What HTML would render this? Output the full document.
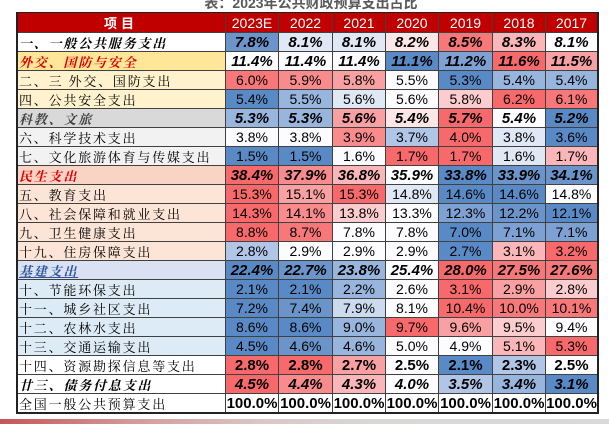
<!DOCTYPE html>
<html>
<head>
<meta charset="utf-8">
<style>
  html,body{margin:0;padding:0;background:#fff;}
  body{width:609px;height:424px;position:relative;overflow:hidden;}
  .title{position:absolute;left:0;width:622px;top:-4px;text-align:center;
    font:bold 14px/14px "Liberation Sans","Noto Sans CJK SC",sans-serif;color:#595959;white-space:nowrap;}
  .grid{position:absolute;left:16px;top:12px;border-left:1px solid #404040;border-top:1px solid #404040;
    display:grid;grid-template-columns:209px 53px 54px 53px 53px 54px 53px 52px;
    grid-template-rows:20px repeat(20,19px);}
  .c{box-sizing:border-box;border-right:1px solid #404040;border-bottom:1px solid #404040;
    display:flex;align-items:center;justify-content:center;white-space:nowrap;
    font:14px "Liberation Sans",Arial,sans-serif;color:#000;overflow:visible;}
  .h{background:#C00000;color:#fff;font-size:14px;}
  .hl{font:bold 13px "Noto Sans CJK SC",sans-serif;letter-spacing:4px;}
  .l{justify-content:flex-start;padding-left:2px;font:13px "Noto Serif CJK SC","Noto Sans CJK SC",serif;letter-spacing:1.8px;}
  .lbi{font-weight:bold;font-style:italic;}
  .bi{font-weight:bold;font-style:italic;font-size:15px;}
  .b{font-weight:bold;font-size:15px;}
  .B{background:#5A8AC6}.B1{background:#6B94CA}.B2{background:#7EA1D4}.B3{background:#98B5DE}
  .B4{background:#B1C6E7}.B5{background:#CCDAEF}.B6{background:#E1E8F5}.W{background:#FCFCFF}
  .P6{background:#FCE6E8}.P5{background:#FBCDCF}.P4{background:#FAB6B8}.P3{background:#F9A0A2}
  .P2{background:#F98B8D}.P1{background:#F8787A}.R{background:#F8696B}.WW{background:#fff}
  .frame{position:absolute;left:16px;top:12px;width:583px;height:402px;box-sizing:border-box;
    border:2px solid #222;border-top-width:1px;pointer-events:none;}
  .bar{position:absolute;left:0;top:419px;width:609px;height:5px;
    background:linear-gradient(90deg,#c45656 0%,#d49a9a 22%,#dbc4c4 42%,#d9d6d6 60%,#d9d9d9 100%);}
</style>
</head>
<body>
<div class="title">表：2023年公共财政预算支出占比</div>
<div class="grid">
  <div class="c h hl">项目</div>
  <div class="c h">2023E</div><div class="c h">2022</div><div class="c h">2021</div><div class="c h">2020</div><div class="c h">2019</div><div class="c h">2018</div><div class="c h">2017</div>

  <div class="c l lbi" style="background:#fff;color:#000">一、一般公共服务支出</div>
  <div class="c bi B1">7.8%</div><div class="c bi B6">8.1%</div><div class="c bi B6">8.1%</div><div class="c bi P6">8.2%</div><div class="c bi P1">8.5%</div><div class="c bi P4">8.3%</div><div class="c bi W">8.1%</div>

  <div class="c l lbi" style="background:#FFE699;color:#E00000">外交、国防与安全</div>
  <div class="c bi W">11.4%</div><div class="c bi W">11.4%</div><div class="c bi W">11.4%</div><div class="c bi B">11.1%</div><div class="c bi B2">11.2%</div><div class="c bi R">11.6%</div><div class="c bi P3">11.5%</div>

  <div class="c l" style="background:#FFF2CC">二、三 外交、国防支出</div>
  <div class="c P1">6.0%</div><div class="c P2">5.9%</div><div class="c P3">5.8%</div><div class="c W">5.5%</div><div class="c B">5.3%</div><div class="c B3">5.4%</div><div class="c B3">5.4%</div>

  <div class="c l" style="background:#FFF2CC">四、公共安全支出</div>
  <div class="c B">5.4%</div><div class="c B3">5.5%</div><div class="c B6">5.6%</div><div class="c W">5.6%</div><div class="c P5">5.8%</div><div class="c R">6.2%</div><div class="c P1">6.1%</div>

  <div class="c l lbi" style="background:#D9D9D9;color:#404040">科教、文旅</div>
  <div class="c bi B3">5.3%</div><div class="c bi B3">5.3%</div><div class="c bi P3">5.6%</div><div class="c bi P6">5.4%</div><div class="c bi R">5.7%</div><div class="c bi W">5.4%</div><div class="c bi B">5.2%</div>

  <div class="c l" style="background:#F2F2F2">六、科学技术支出</div>
  <div class="c W">3.8%</div><div class="c W">3.8%</div><div class="c P2">3.9%</div><div class="c B4">3.7%</div><div class="c R">4.0%</div><div class="c B6">3.8%</div><div class="c B">3.6%</div>

  <div class="c l" style="background:#F2F2F2">七、文化旅游体育与传媒支出</div>
  <div class="c B">1.5%</div><div class="c B">1.5%</div><div class="c W">1.6%</div><div class="c R">1.7%</div><div class="c R">1.7%</div><div class="c B6">1.6%</div><div class="c P4">1.7%</div>

  <div class="c l lbi" style="background:#F9D3C4;color:#E00000">民生支出</div>
  <div class="c bi R">38.4%</div><div class="c bi P2">37.9%</div><div class="c bi P4">36.8%</div><div class="c bi W">35.9%</div><div class="c bi B">33.8%</div><div class="c bi B1">33.9%</div><div class="c bi B1">34.1%</div>

  <div class="c l" style="background:#FCE4D6">五、教育支出</div>
  <div class="c R">15.3%</div><div class="c P3">15.1%</div><div class="c R">15.3%</div><div class="c B6">14.8%</div><div class="c B">14.6%</div><div class="c B">14.6%</div><div class="c W">14.8%</div>

  <div class="c l" style="background:#FCE4D6">八、社会保障和就业支出</div>
  <div class="c R">14.3%</div><div class="c P2">14.1%</div><div class="c P5">13.8%</div><div class="c W">13.3%</div><div class="c B2">12.3%</div><div class="c B1">12.2%</div><div class="c B">12.1%</div>

  <div class="c l" style="background:#FCE4D6">九、卫生健康支出</div>
  <div class="c R">8.8%</div><div class="c P1">8.7%</div><div class="c W">7.8%</div><div class="c W">7.8%</div><div class="c B">7.0%</div><div class="c B2">7.1%</div><div class="c B2">7.1%</div>

  <div class="c l" style="background:#FCE4D6">十九、住房保障支出</div>
  <div class="c B4">2.8%</div><div class="c W">2.9%</div><div class="c W">2.9%</div><div class="c W">2.9%</div><div class="c B">2.7%</div><div class="c P4">3.1%</div><div class="c R">3.2%</div>

  <div class="c l lbi" style="background:#D9E1F2;color:#2F5597;text-decoration:underline">基建支出</div>
  <div class="c bi B">22.4%</div><div class="c bi B1">22.7%</div><div class="c bi B3">23.8%</div><div class="c bi W">25.4%</div><div class="c bi R">28.0%</div><div class="c bi P1">27.5%</div><div class="c bi P1">27.6%</div>

  <div class="c l" style="background:#DDEBF7">十、节能环保支出</div>
  <div class="c B">2.1%</div><div class="c B">2.1%</div><div class="c B3">2.2%</div><div class="c W">2.6%</div><div class="c R">3.1%</div><div class="c P3">2.9%</div><div class="c P5">2.8%</div>

  <div class="c l" style="background:#DDEBF7">十一、城乡社区支出</div>
  <div class="c B">7.2%</div><div class="c B1">7.4%</div><div class="c B5">7.9%</div><div class="c W">8.1%</div><div class="c R">10.4%</div><div class="c P1">10.0%</div><div class="c P1">10.1%</div>

  <div class="c l" style="background:#DDEBF7">十二、农林水支出</div>
  <div class="c B">8.6%</div><div class="c B">8.6%</div><div class="c B3">9.0%</div><div class="c R">9.7%</div><div class="c P3">9.6%</div><div class="c P5">9.5%</div><div class="c W">9.4%</div>

  <div class="c l" style="background:#DDEBF7">十三、交通运输支出</div>
  <div class="c B">4.5%</div><div class="c B1">4.6%</div><div class="c B3">4.6%</div><div class="c W">5.0%</div><div class="c W">4.9%</div><div class="c P4">5.1%</div><div class="c R">5.3%</div>

  <div class="c l" style="background:#fff">十四、资源勘探信息等支出</div>
  <div class="c b R">2.8%</div><div class="c b R">2.8%</div><div class="c b P3">2.7%</div><div class="c b W">2.5%</div><div class="c b B">2.1%</div><div class="c b B4">2.3%</div><div class="c b W">2.5%</div>

  <div class="c l lbi" style="background:#fff;color:#000">廿三、债务付息支出</div>
  <div class="c bi R">4.5%</div><div class="c bi P2">4.4%</div><div class="c bi P4">4.3%</div><div class="c bi W">4.0%</div><div class="c bi B4">3.5%</div><div class="c bi B3">3.4%</div><div class="c bi B">3.1%</div>

  <div class="c l" style="background:#fff">全国一般公共预算支出</div>
  <div class="c b WW">100.0%</div><div class="c b WW">100.0%</div><div class="c b WW">100.0%</div><div class="c b WW">100.0%</div><div class="c b WW">100.0%</div><div class="c b WW">100.0%</div><div class="c b WW">100.0%</div>
</div>
<div class="frame"></div>
<div class="bar"></div>
</body>
</html>
